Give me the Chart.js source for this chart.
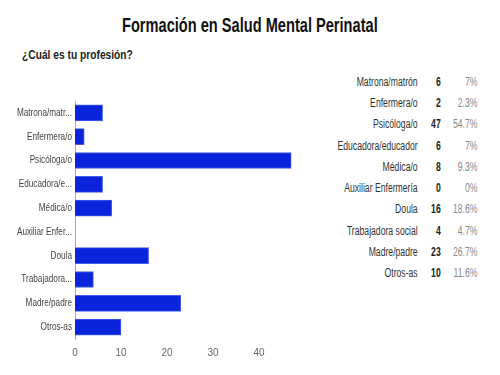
<!DOCTYPE html>
<html>
<head>
<meta charset="utf-8">
<script src="https://cdn.jsdelivr.net/npm/chart.js@4"></script>
<style>
  body { margin: 0; width: 500px; height: 375px; background: #fff; position: relative; overflow: hidden;
         font-family: 'Liberation Sans', Arial, sans-serif; }
  .fit { position: absolute; white-space: nowrap; transform-origin: left top; }
  #title { top: 13px; left: 122px; font: bold 21px 'Liberation Sans', sans-serif; color: #111; }
  #subtitle { top: 47px; left: 22px; font: bold 13px 'Liberation Sans', sans-serif; color: #222; }
  #box { position: absolute; left: 0; top: 95px; width: 320px; height: 270px; }
  #tbl { position: absolute; right: 23px; top: 71px; border-collapse: collapse; font-size: 12px;
         transform: scaleX(0.72); transform-origin: right top; }
  #tbl td { height: 21.3px; padding: 0; white-space: nowrap; }
  #tbl td.n { text-align: right; color: #333; }
  #tbl td.c { text-align: right; font-weight: bold; color: #222; width: 32px; }
  #tbl td.p { text-align: right; color: #888; width: 51px; }
</style>
</head>
<body>
<div id="title" class="fit">Formación en Salud Mental Perinatal</div>
<div id="subtitle" class="fit">¿Cuál es tu profesión?</div>
<div id="box"><canvas id="profChart"></canvas></div>
<table id="tbl"></table>
<script>
const categories = ['Matrona/matrón', 'Enfermera/o', 'Psicóloga/o', 'Educadora/educador', 'Médica/o',
    'Auxiliar Enfermería', 'Doula', 'Trabajadora social', 'Madre/padre', 'Otros-as'];
const shortLabels = ['Matrona/matr...', 'Enfermera/o', 'Psicóloga/o', 'Educadora/e...', 'Médica/o',
    'Auxiliar Enfer...', 'Doula', 'Trabajadora...', 'Madre/padre', 'Otros-as'];
const counts = [6, 2, 47, 6, 8, 0, 16, 4, 23, 10];
const percents = ['7%', '2.3%', '54.7%', '7%', '9.3%', '0%', '18.6%', '4.7%', '26.7%', '11.6%'];
const xTicks = [0, 10, 20, 30, 40];

// squeeze the headings to the narrow look of the original
function fitWidth(id, w) {
    const el = document.getElementById(id);
    el.style.transform = 'scaleX(' + (w / el.offsetWidth) + ')';
}
fitWidth('title', 256);
fitWidth('subtitle', 111);

// summary table on the right
const tbl = document.getElementById('tbl');
categories.forEach((c, i) => {
    const tr = document.createElement('tr');
    tr.innerHTML = '<td class="n">' + c + '</td><td class="c">' + counts[i] + '</td><td class="p">' + percents[i] + '</td>';
    tbl.appendChild(tr);
});

// y labels drawn condensed (no Arial Narrow available)
const narrowLabels = {
    id: 'narrowLabels',
    afterDraw(chart) {
        const sc = chart.scales.y;
        const ctx = chart.ctx;
        ctx.save();
        ctx.font = '10.5px "Liberation Sans", sans-serif';
        ctx.fillStyle = '#444';
        ctx.textAlign = 'right';
        ctx.textBaseline = 'middle';
        sc.ticks.forEach((t, i) => {
            ctx.save();
            ctx.translate(sc.right - 3, sc.getPixelForTick(i));
            ctx.scale(0.78, 1);
            ctx.fillText(chart.data.labels[i], 0, 0);
            ctx.restore();
        });
        ctx.restore();
    }
};

new Chart(document.getElementById('profChart'), {
    type: 'bar',
    data: {
        labels: shortLabels,
        datasets: [{
            data: counts,
            backgroundColor: '#0a24dc',
            borderColor: '#4a5ef0',
            borderWidth: 1,
            barThickness: 16
        }]
    },
    options: {
        indexAxis: 'y',
        responsive: true,
        maintainAspectRatio: false,
        animation: false,
        layout: { padding: { top: 6, right: 15, left: 0, bottom: 0 } },
        plugins: { legend: { display: false }, tooltip: { enabled: false } },
        scales: {
            x: {
                min: 0,
                max: 50,
                afterBuildTicks: (scale) => { scale.ticks = xTicks.map(v => ({ value: v })); },
                grid: { display: false },
                border: { display: false },
                ticks: { color: '#666', font: { size: 10, family: "'Liberation Sans', sans-serif" }, padding: 0 },
                afterFit: (scale) => { scale.height = 26; }
            },
            y: {
                grid: { display: false },
                border: { color: '#aaa', width: 1 },
                ticks: { display: false },
                afterFit: (scale) => { scale.width = 75; }
            }
        }
    },
    plugins: [narrowLabels]
});
</script>
</body>
</html>
